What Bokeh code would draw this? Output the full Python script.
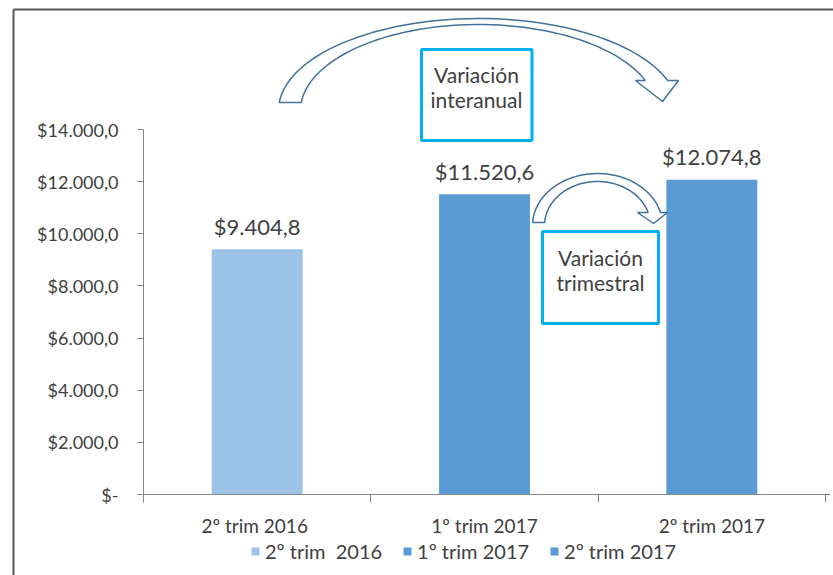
import numpy as np
from bokeh.plotting import figure
from bokeh.models import Range1d, LinearAxis, FixedTicker, Legend, LegendItem, ColumnDataSource
from bokeh.embed import file_html
from bokeh.resources import INLINE
from bokeh.core.properties import value

# ---------------- data ----------------
categories = ["2º trim  2016", "1º trim 2017", "2º trim 2017"]
values = [9404.8, 11520.6, 12074.8]
colors = ["#9DC3E6", "#5B9BD5", "#5B9BD5"]
y_ticks = [0, 2000, 4000, 6000, 8000, 10000, 12000, 14000]
note_big = ["Variación", "interanual"]
note_small = ["Variación", "trimestral"]


def money(v):
    s = f"{v:,.1f}"
    return "$" + s.replace(",", "X").replace(".", ",").replace("X", ".")


y_labels = {t: ("$-" if t == 0 else money(t)) for t in y_ticks}
xs = list(np.arange(len(categories)) + 0.5)
x_labels = {x: c for x, c in zip(xs, categories)}

# ---------------- geometry / layout ----------------
W, H = 833, 575
FONT = "Lato"
TXT = "#404040"
AX = "#868686"

# canvas-pixel -> data helpers (for decorations only)
PX0, PX_PER_CAT = 143.0, 682.0 / 3.0
PY0, PY_PER_VAL = 494.0, (494.0 - 129.0) / 14000.0


def X(px):
    return (px - PX0) / PX_PER_CAT


def Y(py):
    return (PY0 - py) / PY_PER_VAL


p = figure(width=W, height=H, output_backend="svg", toolbar_location=None,
           x_axis_location=None, y_axis_location=None,
           x_range=Range1d(X(0), X(W)), y_range=Range1d(Y(H), Y(0)),
           min_border=0, min_border_left=0, min_border_right=0,
           min_border_top=0, min_border_bottom=0)
p.outline_line_color = None
p.grid.visible = False
p.background_fill_color = "white"
p.border_fill_color = "white"

# outer frame lines (left and top)
p.line([X(13), X(13)], [Y(9), Y(H)], line_color="#595959", line_width=2)
p.line([X(13), X(W)], [Y(9), Y(9)], line_color="#595959", line_width=2)

# ---------------- bars ----------------
src = ColumnDataSource(dict(x=xs, top=values, color=colors, cat=categories,
                            lab=[money(v) for v in values]))
bars = p.vbar(x="x", top="top", bottom=0, width=0.4, fill_color="color",
              line_color=None, source=src)
p.text(x="x", y="top", text="lab", source=src, text_align="center",
       text_baseline="middle", y_offset=-23, text_font=value(FONT),
       text_font_size="22px", text_color=TXT)

# ---------------- axes ----------------
yaxis = LinearAxis(fixed_location=0, bounds=(0, 14000),
                   ticker=FixedTicker(ticks=y_ticks, minor_ticks=[]),
                   major_label_overrides=y_labels)
yaxis.axis_line_color = AX
yaxis.major_tick_line_color = AX
yaxis.major_tick_out = 6
yaxis.major_tick_in = 0
yaxis.minor_tick_line_color = None
yaxis.major_label_standoff = 19
yaxis.major_label_text_font = FONT
yaxis.major_label_text_font_size = "18px"
yaxis.major_label_text_color = TXT
p.add_layout(yaxis, "left")

xaxis = LinearAxis(fixed_location=0, bounds=(0, 3.02),
                   ticker=FixedTicker(ticks=xs, minor_ticks=[0, 1, 2, 3]),
                   major_label_overrides=x_labels)
xaxis.axis_line_color = AX
xaxis.major_tick_line_color = None
xaxis.major_tick_out = 0
xaxis.major_tick_in = 0
xaxis.minor_tick_line_color = AX
xaxis.minor_tick_out = 8
xaxis.minor_tick_in = 0
xaxis.major_label_standoff = 11
xaxis.major_label_text_font = FONT
xaxis.major_label_text_font_size = "19px"
xaxis.major_label_text_color = TXT
p.add_layout(xaxis, "below")


# ---------------- curved arrows ----------------
def curved_arrow(cx, cy, rxo, ryo, rxi, ryi, y_tail, y_base, head_l, head_r, tip_x, tip_y, n=60):
    def arc(rx, ry, t0, t1):
        t = np.linspace(t0, t1, n)
        return list(cx + rx * np.cos(t)), list(cy - ry * np.sin(t))
    to0 = np.pi - np.arcsin((cy - y_tail) / ryo)
    to1 = np.arcsin((cy - y_base) / ryo)
    ti0 = np.pi - np.arcsin((cy - y_tail) / ryi)
    ti1 = np.arcsin((cy - y_base) / ryi)
    ox, oy = arc(rxo, ryo, to0, to1)
    ix, iy = arc(rxi, ryi, ti1, ti0)
    px = ox + [head_r, tip_x, head_l] + ix
    py = oy + [y_base, tip_y, y_base] + iy
    return [X(v) for v in px], [Y(v) for v in py]


ax1, ay1 = curved_arrow(478, 110, 200, 92, 178, 86, 102, 80, 635, 678, 662, 101)
p.patch(ax1, ay1, fill_color="white", line_color="#41719C", line_width=1.5)
ax2, ay2 = curved_arrow(597, 225, 65, 52, 53, 44, 222, 212, 637, 667, 653, 223)
p.patch(ax2, ay2, fill_color="white", line_color="#41719C", line_width=1.5)

# ---------------- note boxes ----------------
p.quad(left=[X(421), X(542)], right=[X(531.5), X(658)],
       top=[Y(49), Y(231)], bottom=[Y(140), Y(323)],
       fill_color="white", line_color="#00B0F0", line_width=3)
p.text(x=[X(476)] * 2, y=[Y(73.5), Y(99)], text=note_big, text_align="center",
       text_baseline="middle", text_font=value(FONT), text_font_size="21px",
       text_color=TXT)
p.text(x=[X(600)] * 2, y=[Y(257), Y(282)], text=note_small, text_align="center",
       text_baseline="middle", text_font=value(FONT), text_font_size="21px",
       text_color=TXT)

# ---------------- legend ----------------
items = [LegendItem(label=c, renderers=[bars], index=i) for i, c in enumerate(categories)]
legend = Legend(items=items, location=(250, 12), orientation="horizontal",
                glyph_width=10, glyph_height=10, label_standoff=5, spacing=20,
                padding=0, margin=0, border_line_color=None,
                background_fill_alpha=0, label_text_font=FONT,
                label_text_font_size="20px", label_text_color=TXT)
p.add_layout(legend)

open("out.html", "w").write(file_html(p, INLINE))
